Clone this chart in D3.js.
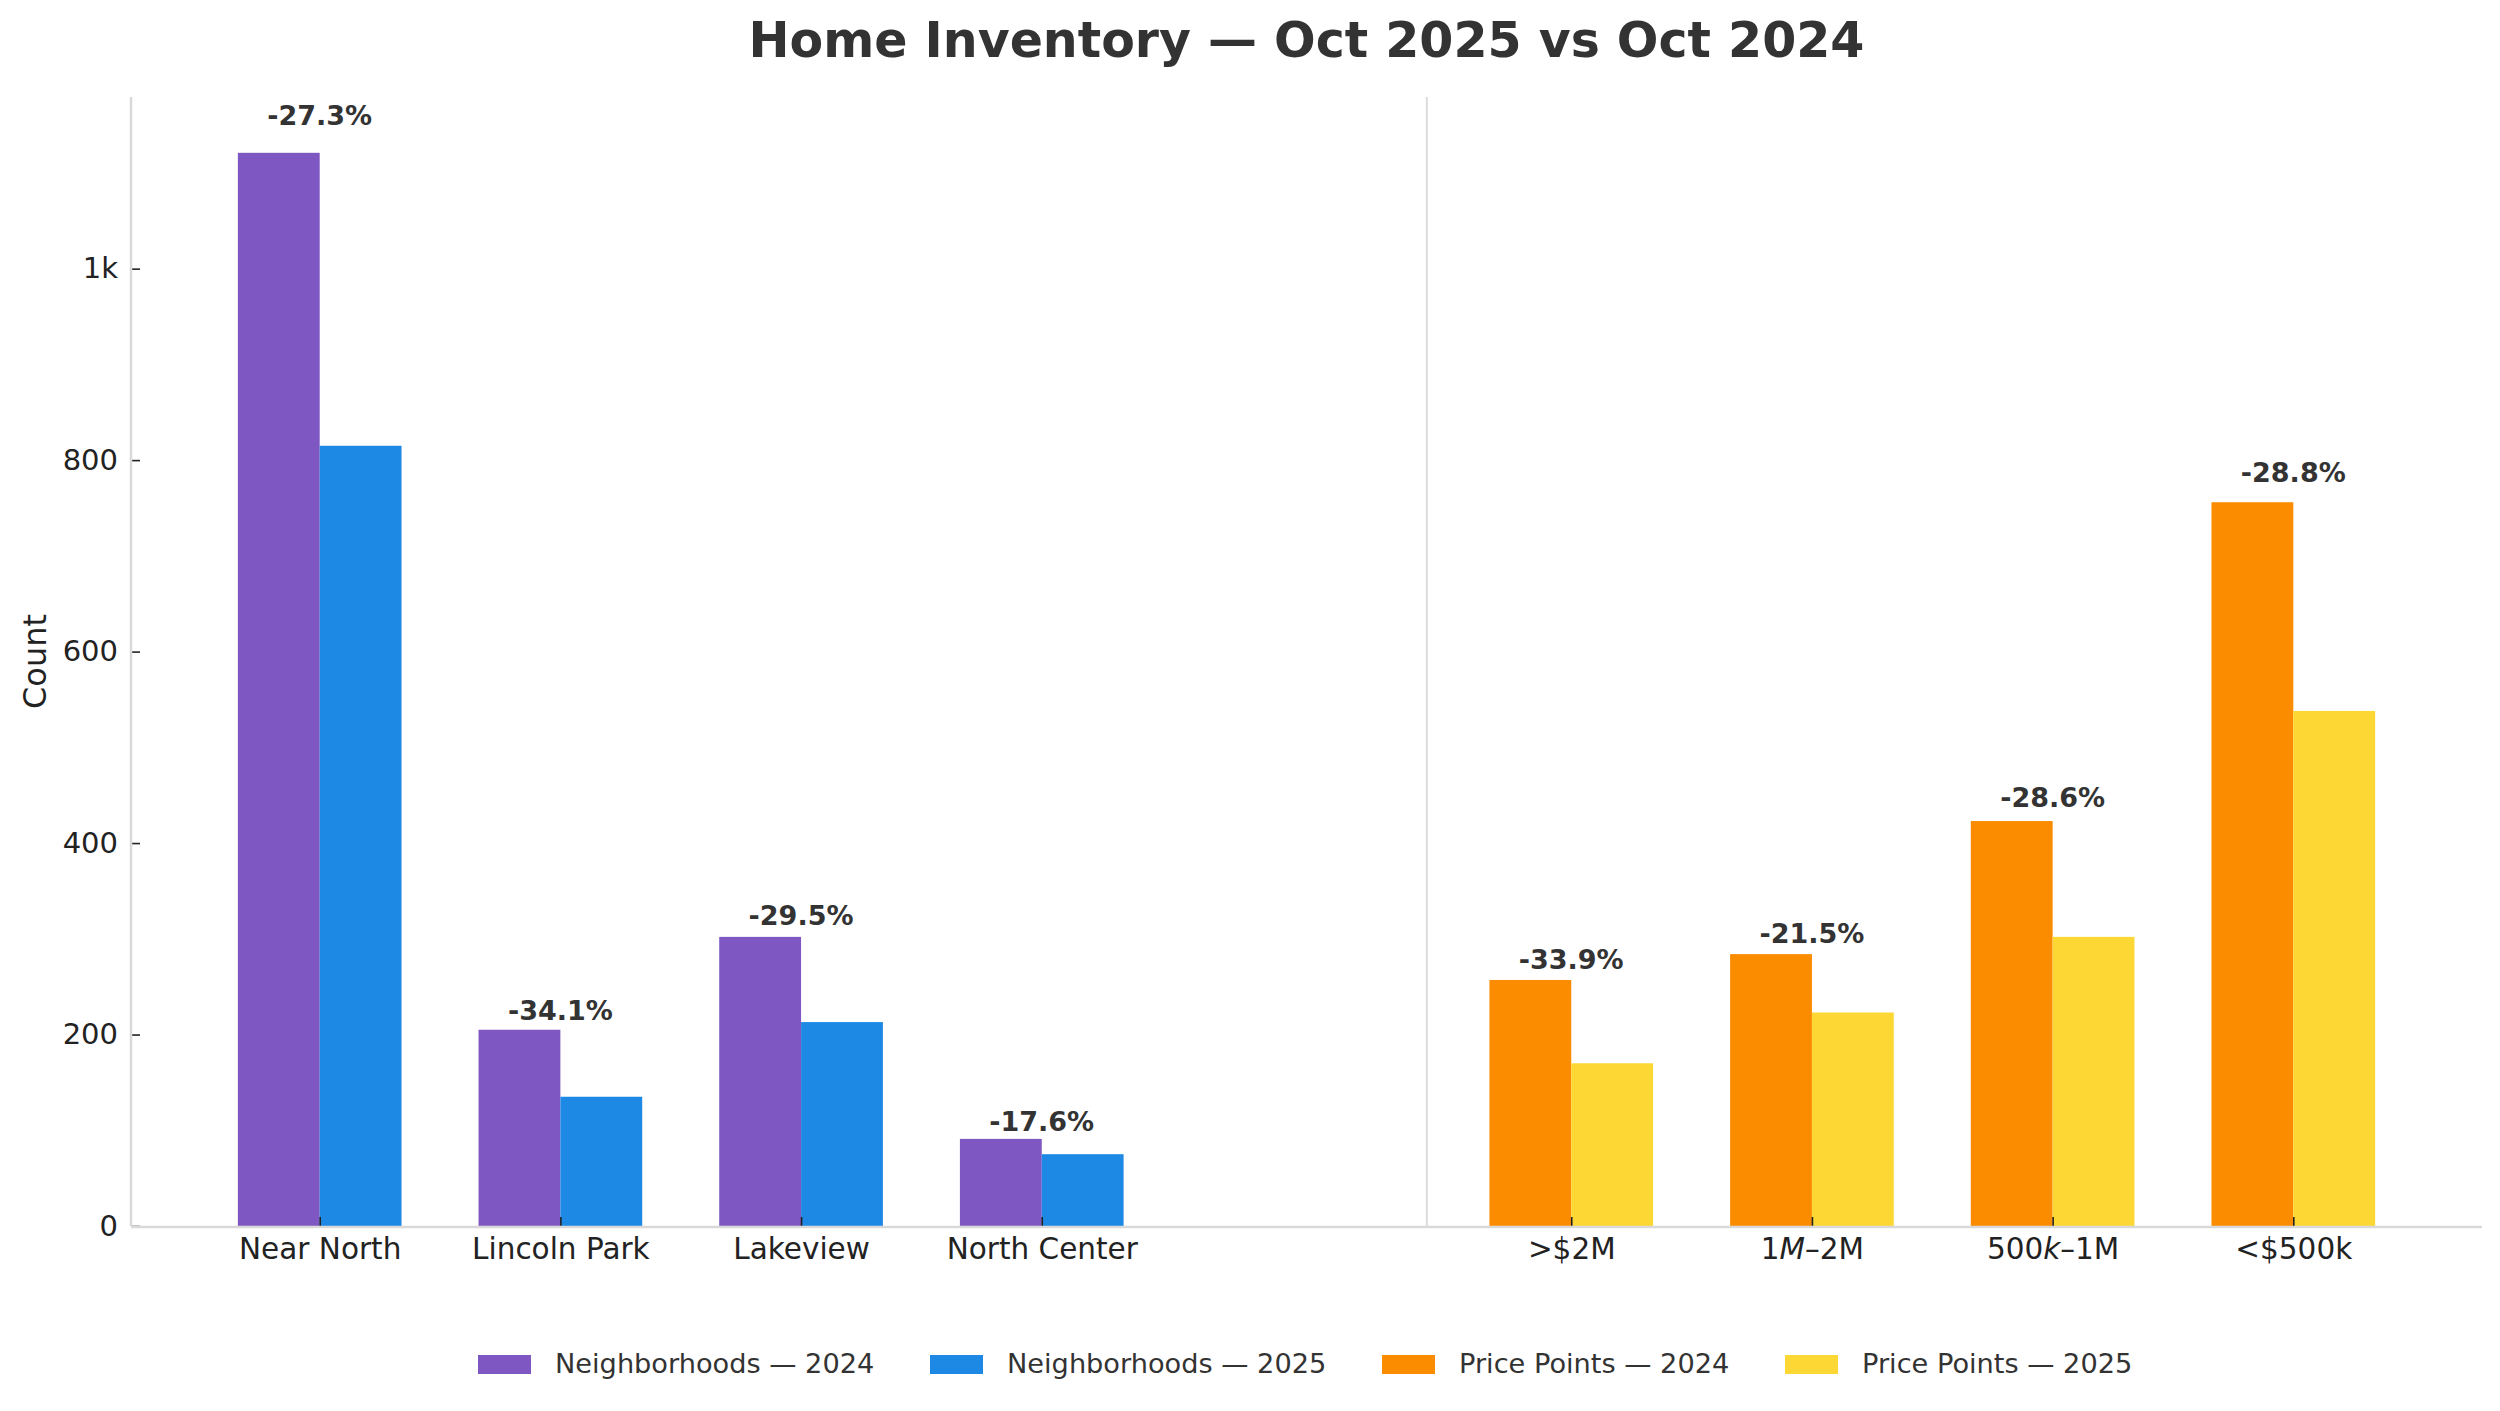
<!DOCTYPE html>
<html>
<head>
<meta charset="utf-8">
<style>
  body { margin: 0; background: #fff; }
  svg, svg text { font-family: "DejaVu Sans", sans-serif; }
  .tick text { fill: #222; font-family: "DejaVu Sans", sans-serif; }
  .tick line { stroke: #222; stroke-width: 1.6; }
  .pct { font-weight: bold; fill: #333; font-size: 27px; text-anchor: middle; }
  .legend text { font-size: 27.2px; fill: #333; }
</style>
</head>
<body>
<svg width="2500" height="1411"></svg>
<script src="https://d3js.org/d3.v7.min.js"></script>
<script>
// values
const neighborhoods = ["Near North", "Lincoln Park", "Lakeview", "North Center"];
const hood2024 = [1121, 205, 302, 91];
const hood2025 = [815, 135, 213, 75];

const pricePoints = [">$2M", "1M–2M", "500k–1M", "<$500k"];
const price2024 = [257, 284, 423, 756];
const price2025 = [170, 223, 302, 538];

const yTicks = [0, 200, 400, 600, 800, 1000];

const legendLabels = ["Neighborhoods — 2024", "Neighborhoods — 2025", "Price Points — 2024", "Price Points — 2025"];
const colors = ["#7E57C2", "#1E88E5", "#FB8C00", "#FDD835"];

let width = 2500, height = 1411;
let margin = { top: 97, right: 18, bottom: 185, left: 131 };
let barW = 0.34;
let priceOffset = 5.2;   // price groups start after a gap
let splitAt = 4.6;

let svg = d3.select("svg");

// rows for every group
let rows = [];
neighborhoods.forEach((n, i) => rows.push({ label: n, pos: i, a: hood2024[i], b: hood2025[i], ca: colors[0], cb: colors[1] }));
pricePoints.forEach((p, j) => rows.push({ label: p, pos: priceOffset + j, a: price2024[j], b: price2025[j], ca: colors[2], cb: colors[3] }));

let lo = -barW, hi = priceOffset + pricePoints.length - 1 + barW;
let pad = (hi - lo) * 0.05;

let x = d3.scaleLinear()
    .domain([lo - pad, hi + pad])
    .range([margin.left, width - margin.right]);

let yMax = d3.max(rows, d => Math.max(d.a, d.b)) * 1.052;
let y = d3.scaleLinear()
    .domain([0, yMax])
    .range([height - margin.bottom, margin.top]);

// separator between the two blocks
svg.append("line")
    .attr("x1", x(splitAt)).attr("x2", x(splitAt))
    .attr("y1", y(yMax)).attr("y2", y(0))
    .style("stroke", "#dcdcdc")
    .style("stroke-width", 2);

// bars
let g = svg.append("g");
g.selectAll("rect.a")
    .data(rows)
    .join("rect")
    .attr("class", "a")
    .attr("x", d => x(d.pos - barW))
    .attr("width", d => x(d.pos) - x(d.pos - barW))
    .attr("y", d => y(d.a))
    .attr("height", d => y(0) - y(d.a))
    .attr("fill", d => d.ca);

g.selectAll("rect.b")
    .data(rows)
    .join("rect")
    .attr("class", "b")
    .attr("x", d => x(d.pos))
    .attr("width", d => x(d.pos + barW) - x(d.pos))
    .attr("y", d => y(d.b))
    .attr("height", d => y(0) - y(d.b))
    .attr("fill", d => d.cb);

// percent change labels
svg.selectAll("text.pct")
    .data(rows)
    .join("text")
    .attr("class", "pct")
    .attr("x", d => x(d.pos))
    .attr("y", d => y(Math.max(d.a, d.b) * 1.02) - 6)
    .text(d => ((d.b / d.a - 1) * 100).toFixed(1) + "%");

// axes
let xAxis = svg.append("g")
    .attr("transform", `translate(0,${y(0)})`)
    .call(d3.axisBottom(x)
        .tickValues(rows.map(d => d.pos))
        .tickSizeInner(-9).tickSizeOuter(0)
        .tickPadding(12)
        .tickFormat(""))
    .attr("font-family", null)
    .call(g => g.select(".domain").remove());

// tick labels, with the matplotlib-style italic letter in "1M–2M" / "500k–1M"
xAxis.selectAll(".tick text")
    .data(rows)
    .style("font-size", "29.5px")
    .each(function (d) {
        let t = d3.select(this);
        let m = d.label.match(/^(\d+)([Mk])(–.*)$/);
        if (m) {
            t.append("tspan").text(m[1]);
            t.append("tspan").style("font-style", "italic").text(m[2]);
            t.append("tspan").text(m[3]);
        } else {
            t.text(d.label);
        }
    });

svg.append("g")
    .attr("transform", `translate(${margin.left},0)`)
    .call(d3.axisLeft(y)
        .tickValues(yTicks)
        .tickSizeInner(-9).tickSizeOuter(0)
        .tickPadding(13)
        .tickFormat(d => d >= 1000 ? (d / 1000) + "k" : d))
    .attr("font-family", null)
    .call(g => g.select(".domain").remove())
    .call(g => g.selectAll(".tick text").style("font-size", "29px"));

// spines
svg.append("line")
    .attr("x1", margin.left).attr("x2", margin.left)
    .attr("y1", y(yMax)).attr("y2", y(0))
    .style("stroke", "#d9d9d9").style("stroke-width", 2.5);
svg.append("line")
    .attr("x1", margin.left).attr("x2", width - margin.right)
    .attr("y1", y(0) + 1).attr("y2", y(0) + 1)
    .style("stroke", "#d9d9d9").style("stroke-width", 2.5);

// title and axis label
svg.append("text")
    .attr("x", (margin.left + width - margin.right) / 2)
    .attr("y", 57)
    .attr("text-anchor", "middle")
    .style("font-size", "49px")
    .style("font-weight", "bold")
    .style("fill", "#333")
    .text("Home Inventory — Oct 2025 vs Oct 2024");

svg.append("text")
    .attr("transform", `translate(46,${(y(0) + y(yMax)) / 2}) rotate(-90)`)
    .attr("text-anchor", "middle")
    .style("font-size", "32px")
    .style("fill", "#222")
    .text("Count");

// legend
let legend = svg.append("g").attr("class", "legend");
let starts = [478, 930, 1382, 1785];
legendLabels.forEach((lab, i) => {
    let item = legend.append("g").attr("transform", `translate(${starts[i]},1355)`);
    item.append("rect")
        .attr("width", 53).attr("height", 19)
        .attr("fill", colors[i]);
    item.append("text")
        .attr("x", 77).attr("y", 18)
        .text(lab);
});
</script>
</body>
</html>
